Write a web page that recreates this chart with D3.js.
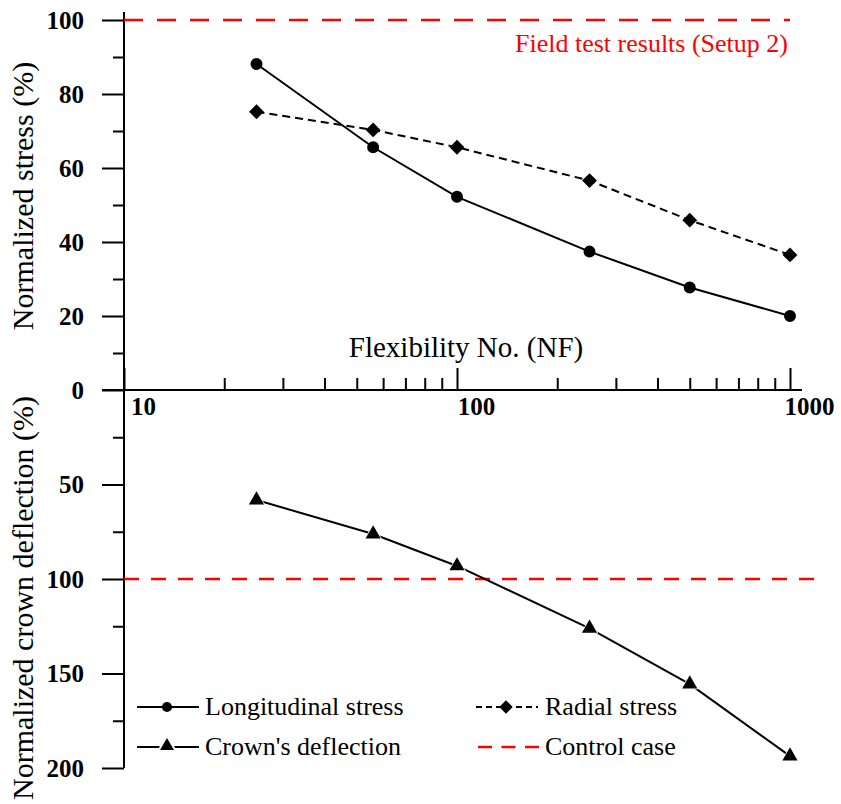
<!DOCTYPE html>
<html>
<head>
<meta charset="utf-8">
<script src="https://cdn.jsdelivr.net/npm/d3@7"></script>
<style>
  html, body { margin: 0; padding: 0; background: #fff; }
  svg { display: block; }
  text { font-family: "Liberation Serif", "Times New Roman", serif; }
</style>
</head>
<body>
<div id="chart"></div>
<script>
// Flexibility numbers of the analysed cases
const flexibility = [25, 56, 100, 250, 500, 1000];
// Normalized stresses (%) relative to field test results
const longitudinalStress = [88.1, 65.6, 52.2, 37.4, 27.7, 20.0];
const radialStress = [75.2, 70.3, 65.6, 56.6, 45.9, 36.5];
// Normalized crown deflection (%) relative to the control case
const crownDeflection = [58.2, 76.2, 93.1, 126.1, 155.6, 193.7];

// Reference levels
const fieldTestLevel = 100;
const controlCaseLevel = 100;

// Tick values
const xMajorTicks = [10, 100, 1000];
const xMinorTicks = [20, 30, 40, 50, 60, 70, 80, 90, 200, 300, 400, 500, 600, 700, 800, 900];
const stressMajorTicks = [0, 20, 40, 60, 80, 100];
const stressMinorTicks = [10, 30, 50, 70, 90];
const deflMajorTicks = [50, 100, 150, 200];
const deflMinorTicks = [25, 75, 125, 175];

const legendItems = [
  { label: "Longitudinal stress", kind: "long" },
  { label: "Radial stress", kind: "radial" },
  { label: "Crown's deflection", kind: "crown" },
  { label: "Control case", kind: "control" }
];

const W = 841, H = 804;
const RED = "#ff0000";
const svg = d3.select("#chart").append("svg").attr("width", W).attr("height", H);

const x = d3.scaleLog().domain([10, 1000]).range([124, 790]);
const yTop = d3.scaleLinear().domain([0, 100]).range([390, 20]);
const yBot = d3.scaleLinear().domain([0, 200]).range([390, 768]);

const majorLen = 22, minorLen = 11;

// Square diamond symbol (equal width and height)
const squareDiamond = {
  draw(ctx, size) {
    const r = Math.sqrt(size / 2);
    ctx.moveTo(0, -r); ctx.lineTo(r, 0); ctx.lineTo(0, r); ctx.lineTo(-r, 0); ctx.closePath();
  }
};

// ---- Vertical axis (shared line) ----
const yAxisG = svg.append("g").attr("transform", `translate(${x.range()[0]},0)`);
yAxisG.append("line")
  .attr("x1", 0).attr("x2", 0).attr("y1", 12).attr("y2", yBot(200))
  .attr("stroke", "#000").attr("stroke-width", 2);

function leftTicks(scale, major, minor) {
  const gMaj = yAxisG.append("g")
    .call(d3.axisLeft(scale).tickValues(major).tickSize(majorLen).tickPadding(18).tickFormat(d3.format("d")));
  gMaj.select(".domain").remove();
  gMaj.selectAll("line").attr("stroke-width", 2);
  gMaj.selectAll("text")
    .attr("font-size", 25).attr("font-weight", "bold")
    .attr("font-family", "'Liberation Serif', 'Times New Roman', serif");
  const gMin = yAxisG.append("g")
    .call(d3.axisLeft(scale).tickValues(minor).tickSize(minorLen).tickFormat(""));
  gMin.select(".domain").remove();
  gMin.selectAll("line").attr("stroke-width", 2);
}
leftTicks(yTop, stressMajorTicks, stressMinorTicks);
leftTicks(yBot, deflMajorTicks, deflMinorTicks);

// ---- Horizontal (flexibility) axis ----
const y0 = yTop(0);
svg.append("line")
  .attr("x1", x.range()[0] - majorLen).attr("x2", x.range()[1] + 12)
  .attr("y1", y0).attr("y2", y0)
  .attr("stroke", "#000").attr("stroke-width", 2);

const xMajG = svg.append("g").attr("transform", `translate(0,${y0})`)
  .call(d3.axisTop(x).tickValues(xMajorTicks).tickSize(majorLen).tickFormat(""));
xMajG.select(".domain").remove();
xMajG.selectAll("line").attr("stroke-width", 2);

const xMinG = svg.append("g").attr("transform", `translate(0,${y0})`)
  .call(d3.axisTop(x).tickValues(xMinorTicks).tickSize(minorLen + 1).tickFormat(""));
xMinG.select(".domain").remove();
xMinG.selectAll("line").attr("stroke-width", 2);

const xLabG = svg.append("g").attr("transform", `translate(0,${y0})`)
  .call(d3.axisBottom(x).tickValues(xMajorTicks).tickSize(0).tickPadding(7).tickFormat(d3.format("d")));
xLabG.select(".domain").remove();
xLabG.selectAll("text")
  .attr("dx", 19)
  .attr("font-size", 25).attr("font-weight", "bold")
  .attr("font-family", "'Liberation Serif', 'Times New Roman', serif");

// ---- Axis titles ----
svg.append("text")
  .attr("transform", `translate(33,196) rotate(-90)`)
  .attr("text-anchor", "middle").attr("font-size", 30)
  .text("Normalized stress (%)");
svg.append("text")
  .attr("transform", `translate(33,598) rotate(-90)`)
  .attr("text-anchor", "middle").attr("font-size", 30)
  .text("Normalized crown deflection (%)");
svg.append("text")
  .attr("x", 466).attr("y", 357)
  .attr("text-anchor", "middle").attr("font-size", 29)
  .text("Flexibility No. (NF)");

// ---- Reference lines ----
svg.append("line")
  .attr("x1", x(10)).attr("x2", x(1000))
  .attr("y1", yTop(fieldTestLevel)).attr("y2", yTop(fieldTestLevel))
  .attr("stroke", RED).attr("stroke-width", 2.5).attr("stroke-dasharray", "19,14");
svg.append("text")
  .attr("x", x(1000) - 2).attr("y", 52)
  .attr("text-anchor", "end").attr("font-size", 26).attr("fill", RED)
  .text("Field test results (Setup 2)");

svg.append("line")
  .attr("x1", x(10)).attr("x2", x(1000) + 28)
  .attr("y1", yBot(controlCaseLevel)).attr("y2", yBot(controlCaseLevel))
  .attr("stroke", RED).attr("stroke-width", 2.5).attr("stroke-dasharray", "15,12");

// ---- Series ----
function drawSeries(values, yScale, dash, symbolType, symbolSize, halo) {
  const pts = flexibility.map((f, i) => [x(f), yScale(values[i])]);
  svg.append("path")
    .attr("d", d3.line()(pts))
    .attr("fill", "none").attr("stroke", "#000").attr("stroke-width", 2)
    .attr("stroke-dasharray", dash || null);
  svg.append("g").selectAll("path").data(pts).join("path")
    .attr("transform", d => `translate(${d[0]},${d[1]})`)
    .attr("d", d3.symbol().type(symbolType).size(symbolSize)())
    .attr("fill", "#000")
    .attr("stroke", halo ? "#fff" : "none")
    .attr("stroke-width", halo ? 1.5 : 0)
    .attr("paint-order", "stroke");
}
drawSeries(longitudinalStress, yTop, null, d3.symbolCircle, 113, false);
drawSeries(radialStress, yTop, "8,5", squareDiamond, 110, false);
drawSeries(crownDeflection, yBot, null, d3.symbolTriangle, 100, true);

// ---- Legend ----
const legendPos = {
  long: { x: 137, y: 707 },
  radial: { x: 476, y: 707 },
  crown: { x: 137, y: 747 },
  control: { x: 476, y: 747 }
};
const sampleW = 62;
legendItems.forEach(item => {
  const p = legendPos[item.kind];
  const g = svg.append("g").attr("transform", `translate(${p.x},${p.y})`);
  if (item.kind === "control") {
    g.append("line").attr("x1", 2).attr("x2", sampleW + 1).attr("y1", 0).attr("y2", 0)
      .attr("stroke", RED).attr("stroke-width", 2.5).attr("stroke-dasharray", "14,9.5");
  } else {
    g.append("line").attr("x1", 0).attr("x2", sampleW).attr("y1", 0).attr("y2", 0)
      .attr("stroke", "#000").attr("stroke-width", 2)
      .attr("stroke-dasharray", item.kind === "radial" ? "6,4" : null);
    const sym = item.kind === "long" ? d3.symbolCircle : item.kind === "radial" ? squareDiamond : d3.symbolTriangle;
    const size = item.kind === "long" ? 80 : item.kind === "radial" ? 90 : 85;
    g.append("path")
      .attr("transform", `translate(${sampleW / 2 - 1},${item.kind === "crown" ? -1 : 0})`)
      .attr("d", d3.symbol().type(sym).size(size)())
      .attr("fill", "#000")
      .attr("stroke", item.kind === "crown" ? "#fff" : "none")
      .attr("stroke-width", item.kind === "crown" ? 4 : 0)
      .attr("paint-order", "stroke");
  }
  g.append("text")
    .attr("x", item.kind === "long" || item.kind === "crown" ? 68 : 69)
    .attr("y", 0).attr("dy", "0.3em")
    .attr("font-size", 26)
    .text(item.label);
});
</script>
</body>
</html>
